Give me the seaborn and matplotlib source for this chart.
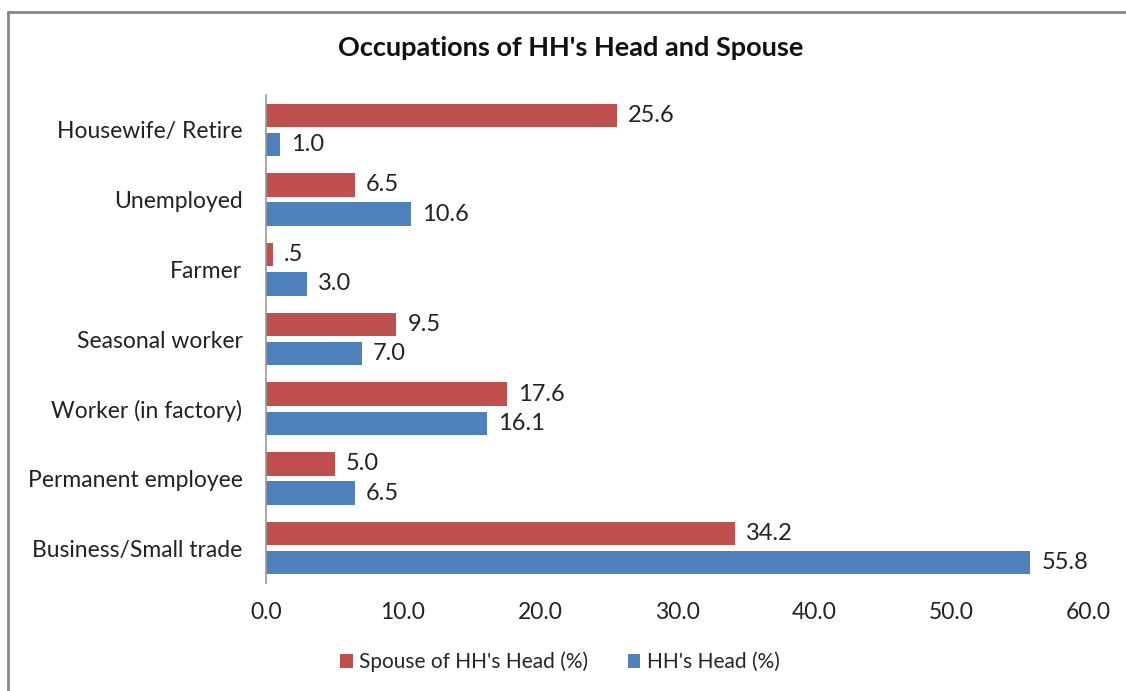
import seaborn as sns
import matplotlib.pyplot as plt
import pandas as pd
from matplotlib.lines import Line2D

# Chart values
occupations = ["Housewife/ Retire", "Unemployed", "Farmer", "Seasonal worker",
               "Worker (in factory)", "Permanent employee", "Business/Small trade"]
spouse = [25.6, 6.5, 0.5, 9.5, 17.6, 5.0, 34.2]
head = [1.0, 10.6, 3.0, 7.0, 16.1, 6.5, 55.8]
series = ["Spouse of HH's Head (%)", "HH's Head (%)"]
x_ticks = [0, 10, 20, 30, 40, 50, 60]

df = pd.DataFrame({
    "Occupation": occupations * 2,
    "Value": spouse + head,
    "Series": [series[0]] * len(occupations) + [series[1]] * len(occupations),
})

sns.set_style("white")
plt.rcParams["font.family"] = ["Lato", "DejaVu Sans"]

W, H = 1126, 691
fig = plt.figure(figsize=(W / 100, H / 100), dpi=100)
ax = fig.add_axes([266 / W, 1 - 583 / H, (1088 - 266) / W, 488 / H])

sns.barplot(data=df, x="Value", y="Occupation", hue="Series",
            order=occupations, hue_order=series,
            palette=["#C0504D", "#4F81BD"], saturation=1, width=0.84, gap=0.2,
            orient="h", ax=ax, legend=True, edgecolor="none", linewidth=0)


def fmt(v):
    s = f"{v:.1f}"
    return s[1:] if s.startswith("0") and v != 0 else s


for cont in ax.containers:
    ax.bar_label(cont, labels=[fmt(v) for v in cont.datavalues],
                 padding=8, fontsize=17, color="#222222")

ax.set_xlim(0, 60)
ax.set_xticks(x_ticks)
ax.set_xticklabels([f"{t:.1f}" for t in x_ticks], fontsize=16.5, color="#222222")
ax.tick_params(axis="y", labelsize=16.5, labelcolor="#222222", length=0, pad=17)
ax.tick_params(axis="x", length=0, pad=14)
ax.set_xlabel("")
ax.set_ylabel("")

for side in ["top", "right", "bottom"]:
    ax.spines[side].set_visible(False)
ax.spines["left"].set_color("#999999")
ax.spines["left"].set_linewidth(1.2)

fig.text(571 / W, 1 - 48 / H, "Occupations of HH's Head and Spouse",
         fontsize=19.5, fontweight="bold", ha="center", va="center", color="#111111")

ax.legend(loc="center", bbox_to_anchor=(560 / W, 1 - 662 / H),
          bbox_transform=fig.transFigure, ncol=2, frameon=False, fontsize=15,
          handlelength=0.6, handleheight=0.6, handletextpad=0.3, columnspacing=1.9)

# outer chart frame (left and top edges visible)
fig.add_artist(Line2D([8 / W, 8 / W], [0, 1 - 12 / H],
                      transform=fig.transFigure, color="#888888", linewidth=2))
fig.add_artist(Line2D([8 / W, 1], [1 - 12 / H, 1 - 12 / H],
                      transform=fig.transFigure, color="#888888", linewidth=2))

fig.savefig("out.png", dpi=100)
